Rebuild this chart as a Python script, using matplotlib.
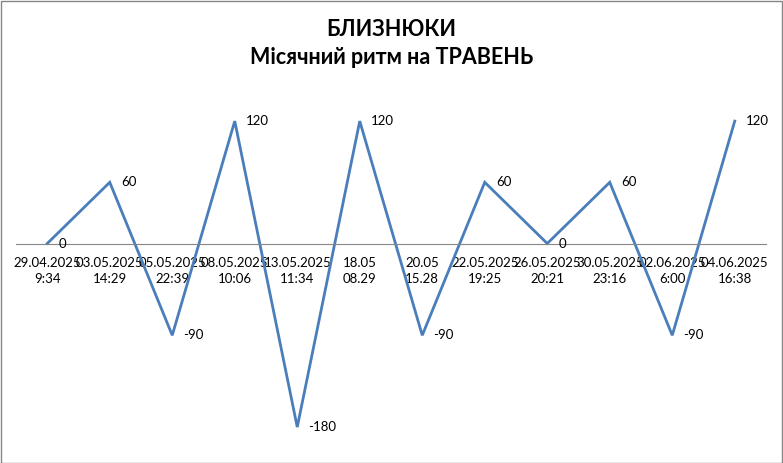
import matplotlib.pyplot as plt
from matplotlib.patches import Rectangle

plt.rcParams['font.family'] = ['Lato', 'DejaVu Sans']

dates = ['29.04.2025\n9:34', '03.05.2025\n14:29', '05.05.2025\n22:39', '08.05.2025\n10:06',
         '13.05.2025\n11:34', '18.05\n08.29', '20.05\n15.28', '22.05.2025\n19:25',
         '26.05.2025\n20:21', '30.05.2025\n23:16', '02.06.2025\n6:00', '04.06.2025\n16:38']
values = [0, 60, -90, 120, -180, 120, -90, 60, 0, 60, -90, 120]

fig = plt.figure(figsize=(7.83, 4.63), dpi=100)
ax = fig.add_axes([16/783, 15.5/463, 750/783, 357/463])

x = list(range(len(values)))
ax.plot(x, values, color='#4A7EBB', lw=2.0, solid_joinstyle='miter')
for xi, v in zip(x, values):
    ax.annotate(str(v), (xi, v), xytext=(8, 0), textcoords='offset points',
                va='center', ha='left', fontsize=9.5)

ax.set_xlim(-0.5, len(values) - 0.5)
ax.set_ylim(-200, 150)
ax.spines['bottom'].set_position(('data', 0))
ax.spines['bottom'].set_color('#868686')
for s in ['top', 'left', 'right']:
    ax.spines[s].set_visible(False)
ax.set_yticks([])
ax.set_xticks(x)
ax.set_xticklabels(dates, fontsize=9.5, linespacing=1.35)
ax.tick_params(axis='x', length=0, pad=10)

fig.text(0.5, 1 - 30/463, 'БЛИЗНЮКИ', ha='center', va='center', fontsize=15.5, fontweight='bold')
fig.text(0.5, 1 - 57/463, 'Місячний ритм на ТРАВЕНЬ', ha='center', va='center', fontsize=15.5,
         fontweight='bold')

fig.patches.append(Rectangle((0.5/783, 0.5/463), 1 - 1.5/783, 1 - 1.5/463, transform=fig.transFigure,
                             fill=False, edgecolor='#868686', lw=1))

fig.savefig('out.png', dpi=100)
